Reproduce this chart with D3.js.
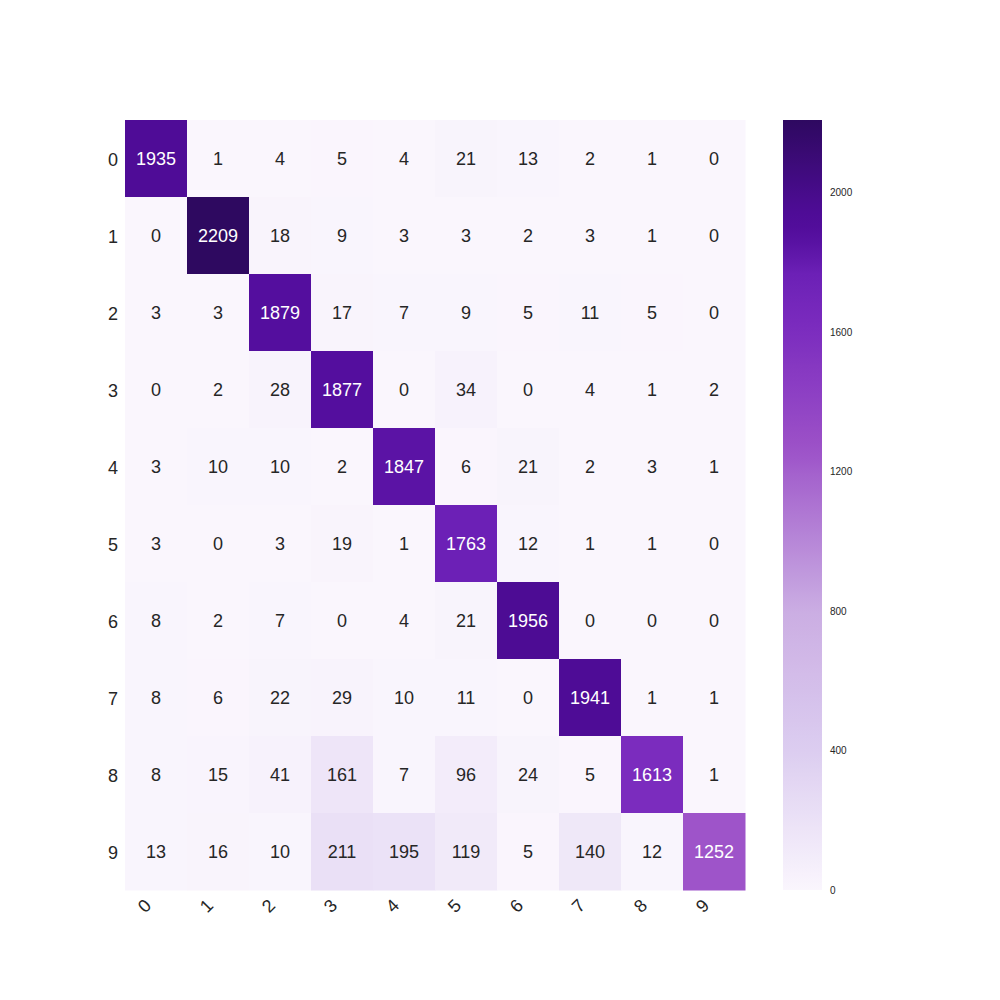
<!DOCTYPE html>
<html><head><meta charset="utf-8">
<script src="https://cdn.jsdelivr.net/npm/d3@7"></script>
<style>body{margin:0;background:#fff;} text{font-family:Arial,"Liberation Sans",sans-serif;}</style>
</head><body>
<svg id="chart" width="1000" height="1000"></svg>
<script>
const rowLabels = ["0","1","2","3","4","5","6","7","8","9"];
const colLabels = ["0","1","2","3","4","5","6","7","8","9"];
const matrix = [
  [1935,1,4,5,4,21,13,2,1,0],
  [0,2209,18,9,3,3,2,3,1,0],
  [3,3,1879,17,7,9,5,11,5,0],
  [0,2,28,1877,0,34,0,4,1,2],
  [3,10,10,2,1847,6,21,2,3,1],
  [3,0,3,19,1,1763,12,1,1,0],
  [8,2,7,0,4,21,1956,0,0,0],
  [8,6,22,29,10,11,0,1941,1,1],
  [8,15,41,161,7,96,24,5,1613,1],
  [13,16,10,211,195,119,5,140,12,1252]
];
const colorbarTicks = [0,400,800,1200,1600,2000];

(function () {
const svg = d3.select("#chart");
const pl = 125, pr = 745, pt = 120, pb = 890;
const x = d3.scaleBand().domain(colLabels).range([pl, pr]).padding(0);
const y = d3.scaleBand().domain(rowLabels).range([pt, pb]).padding(0);
const vmax = d3.max(matrix.flat());
const cmapStops = [0, 0.18, 0.36, 0.54, 0.57, 0.72, 0.80, 0.85, 0.88, 1];
const cmapColors = ["#faf6fd", "#dccdf0", "#cbaee3", "#a462cd", "#9d52c8", "#7d2ebf", "#6c20b6", "#540e9e", "#4e0c96", "#2e0960"];
const color = d3.scaleLinear().domain(cmapStops.map(t => t * vmax)).range(cmapColors)
  .interpolate(d3.interpolateRgb).clamp(true);

const cells = [];
matrix.forEach((row, i) => row.forEach((v, j) => cells.push({r: rowLabels[i], c: colLabels[j], v})));

function lum(c) {
  const rgb = d3.rgb(c);
  const f = u => { u /= 255; return u <= 0.03928 ? u / 12.92 : Math.pow((u + 0.055) / 1.055, 2.4); };
  return 0.2126 * f(rgb.r) + 0.7152 * f(rgb.g) + 0.0722 * f(rgb.b);
}

svg.append("g").selectAll("rect").data(cells).join("rect")
  .attr("x", d => x(d.c)).attr("y", d => y(d.r))
  .attr("width", x.bandwidth() + 0.5).attr("height", y.bandwidth() + 0.5)
  .attr("fill", d => color(d.v));

svg.append("g").selectAll("text").data(cells).join("text")
  .attr("x", d => x(d.c) + x.bandwidth() / 2)
  .attr("y", d => y(d.r) + y.bandwidth() / 2)
  .attr("text-anchor", "middle").attr("dominant-baseline", "central")
  .attr("font-size", 18)
  .attr("fill", d => lum(color(d.v)) > 0.408 ? "#262626" : "#ffffff")
  .text(d => d.v);

svg.append("g").selectAll("text").data(rowLabels).join("text")
  .attr("x", 118).attr("y", d => y(d) + y.bandwidth() / 2 + 1)
  .attr("text-anchor", "end").attr("dominant-baseline", "central")
  .attr("font-size", 18).attr("fill", "#262626").text(d => d);

svg.append("g").selectAll("text").data(colLabels).join("text")
  .attr("transform", d => `translate(${x(d) + x.bandwidth() / 2 - 11.5},${pb + 16}) rotate(-45)`)
  .attr("text-anchor", "middle").attr("dominant-baseline", "central")
  .attr("font-size", 18).attr("fill", "#262626").text(d => d);

const cbX = 783, cbW = 39;
const cbScale = d3.scaleLinear().domain([0, vmax]).range([pb, pt]);
const defs = svg.append("defs");
const grad = defs.append("linearGradient").attr("id", "cbgrad")
  .attr("x1", "0").attr("y1", "1").attr("x2", "0").attr("y2", "0");
d3.range(0, 1.0001, 0.02).forEach(t => {
  grad.append("stop").attr("offset", t).attr("stop-color", color(t * vmax));
});
svg.append("rect").attr("x", cbX).attr("y", pt).attr("width", cbW).attr("height", pb - pt)
  .attr("fill", "url(#cbgrad)");
svg.append("g").selectAll("text").data(colorbarTicks).join("text")
  .attr("x", cbX + cbW + 8).attr("y", d => cbScale(d))
  .attr("dominant-baseline", "central").attr("font-size", 10).attr("fill", "#262626")
  .text(d => d);
})();
</script>
</body></html>
